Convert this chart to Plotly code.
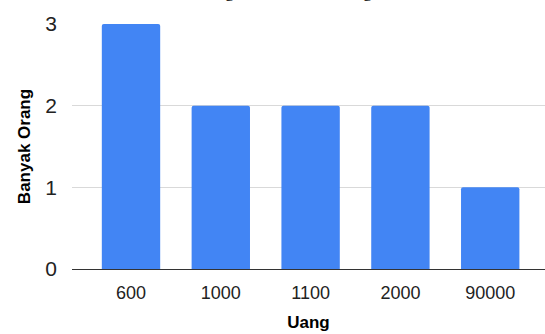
import plotly.graph_objects as go

# Jumlah orang untuk setiap nominal uang
uang = ["600", "1000", "1100", "2000", "90000"]
banyak_orang = [3, 2, 2, 2, 1]
y_ticks = [0, 1, 2, 3]

fig = go.Figure(
    go.Bar(
        x=uang,
        y=banyak_orang,
        marker=dict(color="#4285F4", line=dict(width=0), cornerradius=2),
        width=0.65,
    )
)

fig.update_layout(
    width=545,
    height=334,
    margin=dict(l=72, r=0, t=24, b=65),
    paper_bgcolor="white",
    plot_bgcolor="white",
    showlegend=False,
    font=dict(family="Liberation Sans, Arial, sans-serif", color="#000000"),
    annotations=[
        dict(
            text="Orang Berdasarkan Uang",
            xref="paper", yref="paper",
            x=0.44, y=1.087,
            xanchor="center", yanchor="bottom",
            showarrow=False,
            font=dict(family="Liberation Serif, Times New Roman, serif", size=18, color="#000000"),
        )
    ],
)

fig.update_xaxes(
    type="category",
    range=[-0.657, 4.61],
    showgrid=False,
    showline=False,
    ticks="",
    tickfont=dict(size=18, color="#222222"),
    ticklabelstandoff=11,
    title=dict(text="<b>Uang</b>", font=dict(size=17, color="#000000"), standoff=14),
)

fig.update_yaxes(
    range=[0, 3],
    tickvals=y_ticks,
    showgrid=True,
    gridcolor="#D9D9D9",
    gridwidth=1,
    zeroline=True,
    zerolinecolor="#333333",
    zerolinewidth=1,
    showline=False,
    ticks="",
    tickfont=dict(size=21, color="#222222"),
    ticklabelstandoff=14,
    title=dict(text="<b>Banyak Orang</b>", font=dict(size=17, color="#000000"), standoff=10),
)

fig.write_html("out.html")
